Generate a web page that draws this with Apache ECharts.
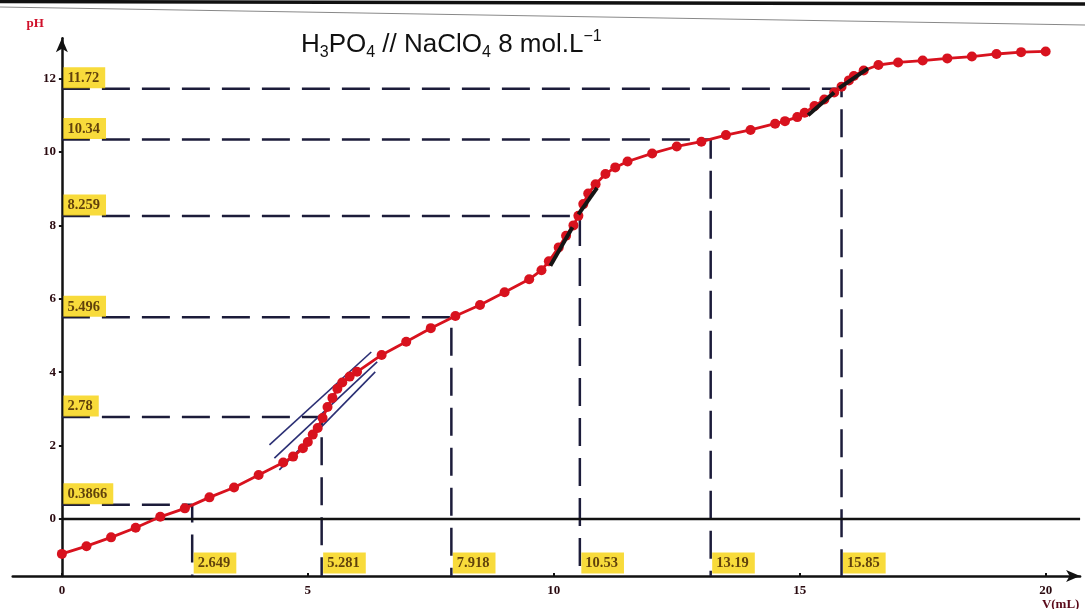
<!DOCTYPE html>
<html>
<head>
<meta charset="utf-8">
<title>H3PO4 // NaClO4</title>
<script src="https://cdn.jsdelivr.net/npm/echarts@6/dist/echarts.min.js"></script>
<style>
  html, body { margin: 0; padding: 0; background: #fff; }
  #chart { width: 1085px; height: 609px; }
</style>
</head>
<body>
<div id="chart"></div>
<script>
// titration points: volume (mL) and pH
const volume = [0, 0.5, 1.0, 1.5, 2.0, 2.5, 3.0, 3.5, 4.0, 4.5, 4.7, 4.9, 5.0, 5.1, 5.2, 5.3, 5.4, 5.5, 5.6, 5.7, 5.85, 6.0,
  6.5, 7.0, 7.5, 8.0, 8.5, 9.0, 9.5, 9.75, 9.9, 10.1, 10.25, 10.4, 10.5, 10.6, 10.7, 10.85, 11.05, 11.25, 11.5,
  12.0, 12.5, 13.0, 13.5, 14.0, 14.5, 14.7, 14.95, 15.1, 15.3, 15.5, 15.7, 15.85, 16.0, 16.1, 16.3, 16.6,
  17.0, 17.5, 18.0, 18.5, 19.0, 19.5, 20.0]
const ph = [-0.95, -0.74, -0.50, -0.24, 0.06, 0.29, 0.59, 0.86, 1.20, 1.54, 1.70, 1.93, 2.10, 2.30, 2.48, 2.75, 3.05, 3.30, 3.55, 3.72, 3.88, 4.01,
  4.47, 4.83, 5.20, 5.53, 5.83, 6.18, 6.53, 6.78, 7.02, 7.40, 7.72, 8.00, 8.26, 8.58, 8.87, 9.12, 9.40, 9.58, 9.74,
  9.96, 10.15, 10.28, 10.46, 10.60, 10.77, 10.84, 10.95, 11.07, 11.25, 11.43, 11.62, 11.78, 11.95, 12.07, 12.22, 12.37,
  12.44, 12.49, 12.55, 12.60, 12.67, 12.72, 12.74]

// marked points (volume, pH) with their dashed guides
const markVolume = [2.649, 5.281, 7.918, 10.53, 13.19, 15.85]
const markPh = [0.3866, 2.78, 5.496, 8.259, 10.34, 11.72]

// tangent construction lines [[V1, pH1], [V2, pH2]]
const tangentBlue = [
  [[4.22, 2.02], [6.29, 4.55]],
  [[4.32, 1.66], [6.41, 4.28]],
  [[4.42, 1.34], [6.37, 4.01]]
]
const tangentBlack = [
  [[9.93, 6.90], [10.38, 7.95]],
  [[10.50, 8.30], [10.88, 9.02]],
  [[15.17, 11.00], [15.70, 11.62]],
  [[15.80, 11.74], [16.39, 12.28]]
]

const xTicks = [0, 5, 10, 15, 20]
const yTicks = [0, 2, 4, 6, 8, 10, 12]

const xMin = -1
const xMax = 20.7
const yMin = -1.55
const yMax = 13.1

const gridLeft = 12.7
const gridRight = 4.9
const plotWidth = 1085 - gridLeft - gridRight
// shift of the pH axis so that it sits on V = 0
const yAxisShift = plotWidth * (0 - xMin) / (xMax - xMin)

const serif = '"Liberation Serif", "DejaVu Serif", serif'
const sans = '"Liberation Sans", Arial, sans-serif'
const inkColor = '#2a0a10'
const dashColor = '#1c1c3a'
const yellow = '#f6d20a'

const chart = echarts.init(document.getElementById('chart'))

const series = []

// dashed guide lines
markVolume.forEach((v, i) => {
  series.push({
    type: 'line',
    data: [[0, markPh[i]], [v, markPh[i]], [v, yMin]],
    symbol: 'none',
    silent: true,
    lineStyle: { color: dashColor, width: 2.5, type: [28, 12] },
    z: 2
  })
})

// pH = 0 line
series.push({
  type: 'line',
  data: [[0, 0], [xMax, 0]],
  symbol: 'none',
  silent: true,
  lineStyle: { color: '#111', width: 2.5 },
  z: 2
})

// blue tangents around the first jump
tangentBlue.forEach(seg => {
  series.push({
    type: 'line',
    data: seg,
    symbol: 'none',
    lineStyle: { color: '#2b2f74', width: 1.6 },
    z: 3
  })
})

// titration curve
series.push({
  type: 'line',
  data: volume.map((v, i) => [v, ph[i]]),
  symbol: 'circle',
  symbolSize: 10,
  itemStyle: { color: '#d8121e' },
  lineStyle: { color: '#d8121e', width: 2.8 },
  z: 4
})

// black tangents on the two later jumps
tangentBlack.forEach(seg => {
  series.push({
    type: 'line',
    data: seg,
    symbol: 'none',
    lineStyle: { color: '#151515', width: 4 },
    z: 5
  })
})

const yellowLabel = {
  show: true,
  backgroundColor: yellow,
  color: '#3a1a00',
  fontFamily: serif,
  fontWeight: 'bold',
  fontSize: 14.5,
  lineHeight: 16,
  padding: [3, 6, 2, 4]
}

// yellow pH labels on the y axis
series.push({
  type: 'scatter',
  data: markPh.map(p => [0, p]),
  symbolSize: 1,
  itemStyle: { color: 'transparent' },
  label: Object.assign({}, yellowLabel, {
    position: [2, -21],
    formatter: p => String(p.value[1])
  }),
  z: 6
})

// yellow volume labels on the bottom axis
series.push({
  type: 'scatter',
  data: markVolume.map(v => [v, yMin]),
  symbolSize: 1,
  itemStyle: { color: 'transparent' },
  label: Object.assign({}, yellowLabel, {
    position: [2, -23],
    formatter: p => String(p.value[0])
  }),
  z: 6
})

const option = {
  animation: false,
  backgroundColor: '#fff',
  title: {
    left: 296,
    top: 24,
    text: '{b|H}{s|3}{b|PO}{s|4}{b| // NaClO}{s|4}{b| 8 mol.L}{p|\u22121}',
    textStyle: {
      rich: {
        b: { fontFamily: sans, fontWeight: 'normal', fontSize: 26, color: '#111', lineHeight: 32 },
        s: { fontFamily: sans, fontWeight: 'normal', fontSize: 16, color: '#111', lineHeight: 32, verticalAlign: 'bottom' },
        p: { fontFamily: sans, fontWeight: 'normal', fontSize: 16, color: '#111', lineHeight: 32, verticalAlign: 'top' }
      }
    }
  },
  graphic: [
    { type: 'line', shape: { x1: 0, y1: 1.5, x2: 1085, y2: 4 }, style: { stroke: '#111', lineWidth: 3.5 }, silent: true },
    { type: 'line', shape: { x1: 0, y1: 7, x2: 1085, y2: 25 }, style: { stroke: '#888', lineWidth: 1.2 }, silent: true }
  ],
  grid: { left: gridLeft, right: gridRight, top: 38.2, bottom: 33.1, containLabel: false, outerBoundsMode: 'none' },
  xAxis: {
    type: 'value',
    min: xMin,
    max: xMax,
    splitLine: { show: false },
    axisLine: {
      onZero: false,
      symbol: ['none', 'arrow'],
      symbolSize: [9, 14],
      lineStyle: { color: '#111', width: 2.5 }
    },
    axisTick: { show: true, customValues: xTicks, length: 3, inside: true, lineStyle: { color: '#111', width: 2 } },
    axisLabel: {
      customValues: xTicks,
      margin: 8,
      color: inkColor,
      fontFamily: serif,
      fontWeight: 'bold',
      fontSize: 13,
      lineHeight: 14,
      formatter: v => v === 20 ? '20\n{u|V(mL)}' : String(v),
      rich: {
        u: { color: '#5a0a1a', fontFamily: serif, fontWeight: 'bold', fontSize: 13, lineHeight: 14, padding: [0, 0, 0, 30] }
      }
    }
  },
  yAxis: {
    type: 'value',
    min: yMin,
    max: yMax,
    offset: -yAxisShift,
    name: 'pH',
    nameLocation: 'end',
    nameGap: 8,
    nameTextStyle: {
      color: '#d0102a',
      fontFamily: serif,
      fontWeight: 'bold',
      fontSize: 13,
      align: 'right',
      padding: [0, 18, 0, 0]
    },
    splitLine: { show: false },
    axisLine: {
      onZero: false,
      symbol: ['none', 'arrow'],
      symbolSize: [9, 14],
      lineStyle: { color: '#111', width: 2.5 }
    },
    axisTick: { show: true, customValues: yTicks, length: 3, lineStyle: { color: '#111', width: 2 } },
    axisLabel: {
      customValues: yTicks,
      margin: 6,
      color: inkColor,
      fontFamily: serif,
      fontWeight: 'bold',
      fontSize: 13
    }
  },
  series
}

chart.setOption(option)
</script>
</body>
</html>
